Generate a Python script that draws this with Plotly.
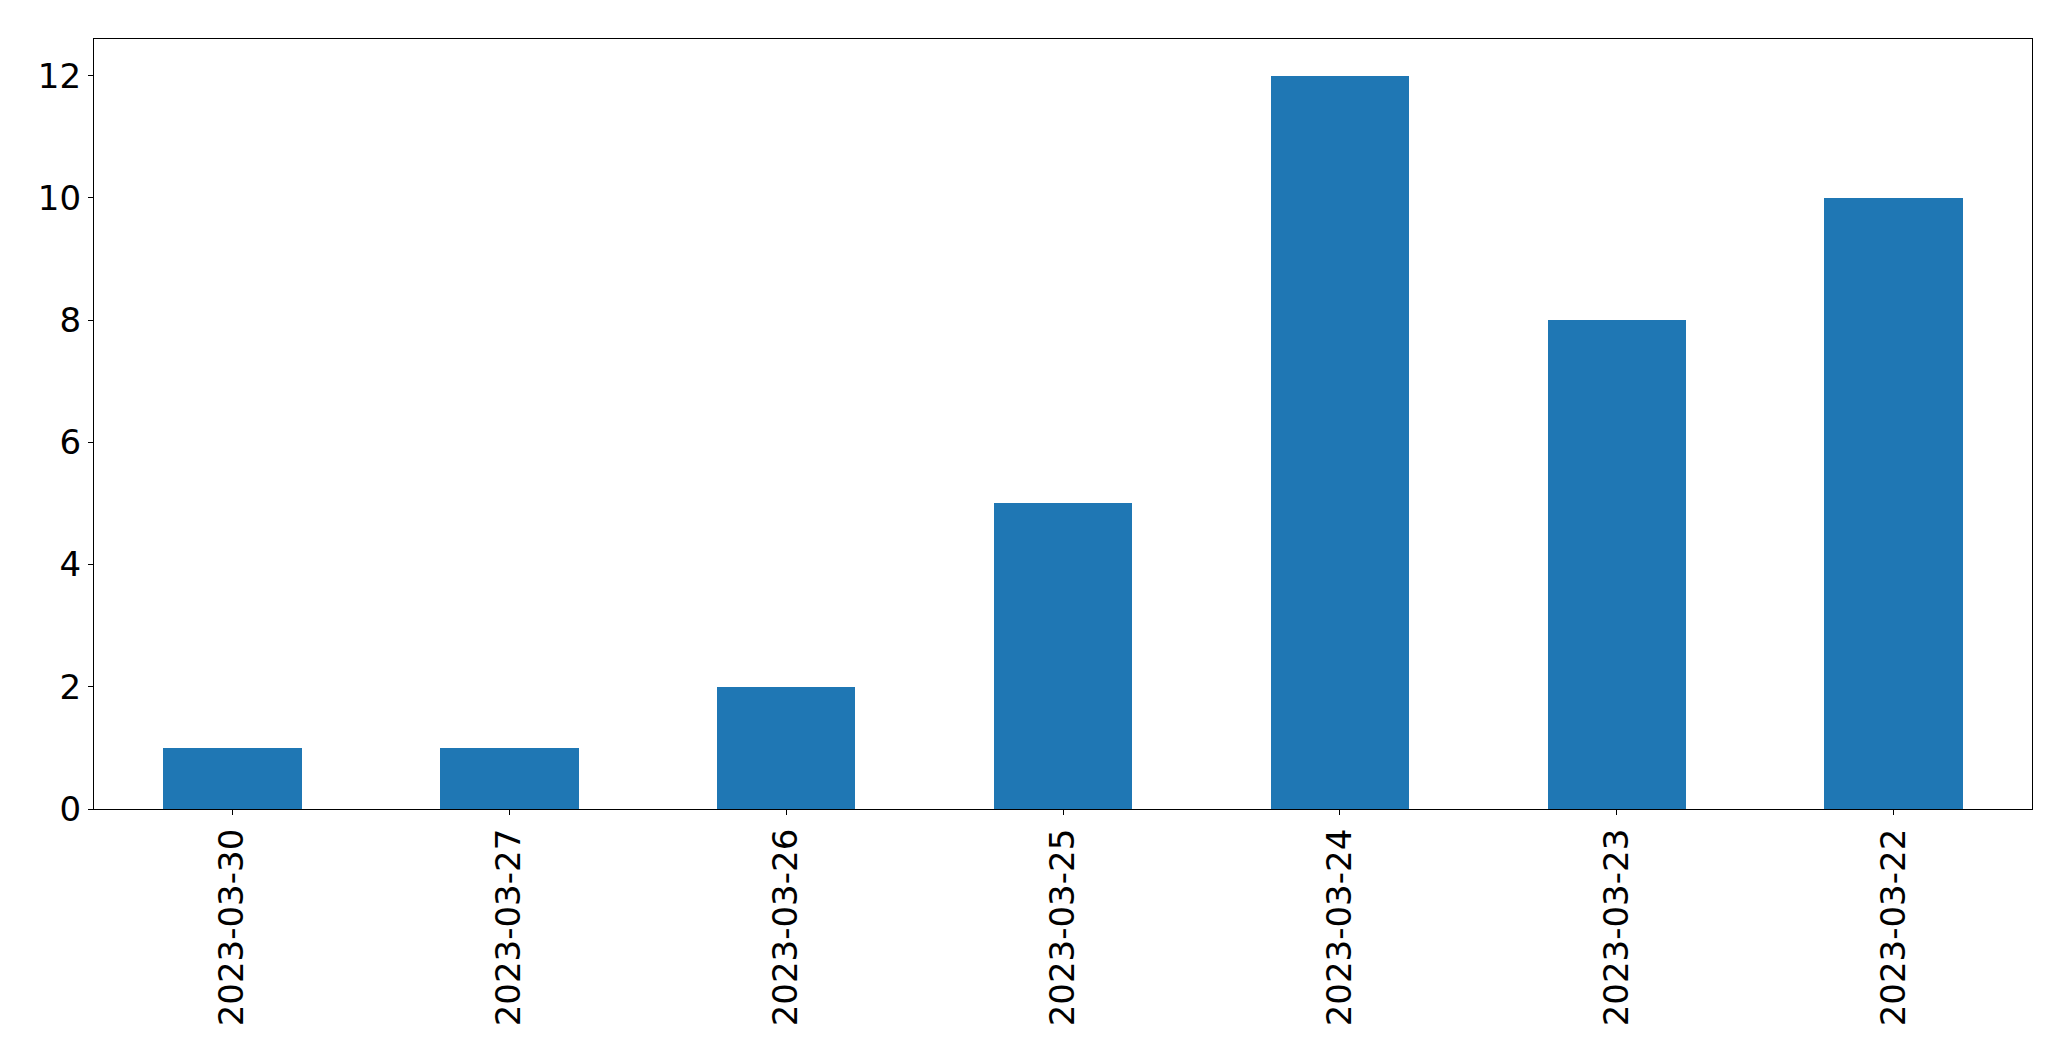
import plotly.graph_objects as go

dates = ["2023-03-30", "2023-03-27", "2023-03-26", "2023-03-25",
         "2023-03-24", "2023-03-23", "2023-03-22"]
counts = [1, 1, 2, 5, 12, 8, 10]
y_ticks = [0, 2, 4, 6, 8, 10, 12]

fig = go.Figure(go.Bar(
    x=list(range(len(dates))), y=counts,
    width=0.5, marker=dict(color="#1f77b4", line=dict(width=0)),
))

fig.update_layout(
    width=2071, height=1061, autosize=False,
    margin=dict(l=94, r=39, t=39, b=252, pad=0),
    paper_bgcolor="white", plot_bgcolor="white",
    font=dict(family="DejaVu Sans", size=34, color="black"),
    showlegend=False, bargap=0,
)
fig.update_xaxes(
    range=[-0.5, len(dates) - 0.5],
    tickmode="array", tickvals=list(range(len(dates))), ticktext=dates,
    tickangle=-90, ticks="outside", ticklen=5, tickwidth=1.3, tickcolor="black",
    showline=True, linecolor="black", linewidth=1.3, mirror=True,
    showgrid=False, zeroline=False,
)
fig.update_yaxes(
    range=[0, 12.6],
    tickmode="array", tickvals=y_ticks, ticktext=[str(v) for v in y_ticks],
    ticks="outside", ticklen=5, tickwidth=1.3, tickcolor="black",
    showline=True, linecolor="black", linewidth=1.3, mirror=True,
    showgrid=False, zeroline=False,
)

fig.write_html("out.html")
